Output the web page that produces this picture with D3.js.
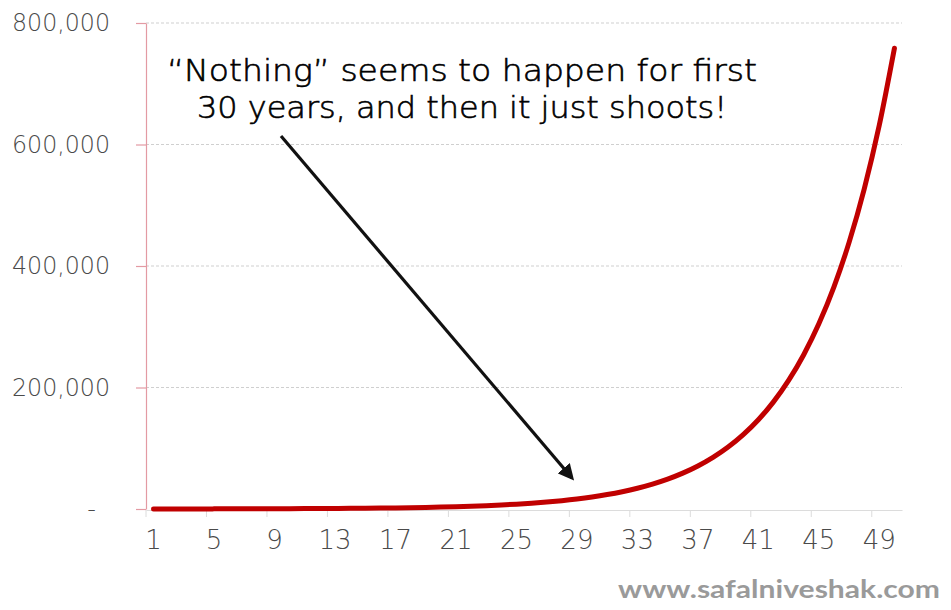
<!DOCTYPE html>
<html>
<head>
<meta charset="utf-8">
<script src="https://cdn.jsdelivr.net/npm/d3@7"></script>
<style>
  html, body { margin: 0; padding: 0; background: #fff; }
  svg { display: block; }
</style>
</head>
<body>
<svg id="chart" width="951" height="610"></svg>
<script>
// Years 1..50 and the portfolio value at the end of each year
const years = d3.range(1, 51);
const values = [
  100, 120, 144, 173, 207, 249, 299, 358, 430, 516,
  619, 743, 892, 1070, 1284, 1541, 1849, 2219, 2662, 3195,
  3834, 4601, 5521, 6625, 7950, 9540, 11448, 13737, 16484, 19781,
  23738, 28485, 34182, 41019, 49222, 59067, 70880, 85056, 102067, 122481,
  146977, 176373, 211647, 253977, 304772, 365726, 438871, 526646, 631975, 758370
];
const xTickLabels = [1, 5, 9, 13, 17, 21, 25, 29, 33, 37, 41, 45, 49];
const yTickValues = [0, 200000, 400000, 600000, 800000];
const noteLines = ["\u201CNothing\u201D seems to happen for first", "30 years, and then it just shoots!"];
const siteLabel = "www.safalniveshak.com";

const svg = d3.select("#chart");
const lightFont = "'DejaVu Sans', sans-serif";
const font = "'Lato', 'Open Sans', sans-serif";

const x = d3.scaleBand().domain(years).range([146, 902]);
const y = d3.scaleLinear().domain([0, 800000]).range([509, 23]);

// dashed horizontal gridlines
svg.append("g")
  .selectAll("line")
  .data(yTickValues.filter(d => d > 0))
  .join("line")
  .attr("x1", 146).attr("x2", 902)
  .attr("y1", d => y(d)).attr("y2", d => y(d))
  .attr("stroke", "#cfcfcf")
  .attr("stroke-width", 1)
  .attr("stroke-dasharray", "3,2");

// x axis: labels at category centres, tick marks at category edges
const xAxis = svg.append("g")
  .attr("transform", `translate(0,${y(0) + 1})`)
  .call(d3.axisBottom(x).tickValues(xTickLabels).tickSize(7).tickPadding(14).tickSizeOuter(0));
xAxis.select(".domain").attr("stroke", "#dcdcdc").attr("stroke-width", 1.2);
xAxis.selectAll(".tick line")
  .attr("stroke", "#dcdcdc")
  .attr("transform", `translate(${-x.bandwidth() / 2},0)`);
xAxis.selectAll(".tick text")
  .attr("font-family", lightFont)
  .attr("font-weight", 200)
  .attr("font-size", 26)
  .attr("fill", "#4a4a4a");

// y axis
const yAxis = svg.append("g")
  .attr("transform", "translate(146,0)")
  .call(d3.axisLeft(y)
    .tickValues(yTickValues)
    .tickSize(10)
    .tickPadding(26)
    .tickSizeOuter(0)
    .tickFormat(d => d === 0 ? "-" : d3.format(",")(d)));
yAxis.select(".domain").attr("stroke", "#e39aa3").attr("stroke-width", 1.2);
yAxis.selectAll(".tick line").attr("stroke", "#e39aa3").attr("stroke-width", 1.2);
yAxis.selectAll(".tick text")
  .attr("font-family", lightFont)
  .attr("font-weight", 200)
  .attr("font-size", 24)
  .attr("fill", "#4a4a4a")
  .attr("dx", d => d === 0 ? -14 : 0)
  .attr("textLength", d => d === 0 ? null : 98)
  .attr("lengthAdjust", "spacingAndGlyphs");

// growth curve
const line = d3.line()
  .x((d, i) => x(years[i]) + x.bandwidth() / 2)
  .y(d => y(d))
  .curve(d3.curveMonotoneX);

svg.append("path")
  .datum(values)
  .attr("d", line)
  .attr("fill", "none")
  .attr("stroke", "#c00000")
  .attr("stroke-width", 5)
  .attr("stroke-linecap", "round")
  .attr("stroke-linejoin", "round");

// annotation arrow
const defs = svg.append("defs");
defs.append("marker")
  .attr("id", "head")
  .attr("viewBox", "0 0 10 10")
  .attr("refX", 8).attr("refY", 5)
  .attr("markerWidth", 5).attr("markerHeight", 5)
  .attr("orient", "auto")
  .append("path")
  .attr("d", "M0,0 L10,5 L0,10 z")
  .attr("fill", "#111");

svg.append("line")
  .attr("x1", 281).attr("y1", 136)
  .attr("x2", 572).attr("y2", 478)
  .attr("stroke", "#111")
  .attr("stroke-width", 3.2)
  .attr("marker-end", "url(#head)");

// annotation text, stretched to its line widths
const noteBaselines = [81, 118];
const noteWidths = [590, 530];
svg.append("g")
  .selectAll("text")
  .data(noteLines)
  .join("text")
  .attr("x", 462)
  .attr("y", (d, i) => noteBaselines[i])
  .attr("text-anchor", "middle")
  .attr("font-family", lightFont)
  .attr("font-weight", 200)
  .attr("font-size", 30)
  .attr("fill", "#000")
  .attr("stroke", "#000")
  .attr("stroke-width", 0.6)
  .attr("textLength", (d, i) => noteWidths[i])
  .attr("lengthAdjust", "spacingAndGlyphs")
  .text(d => d);

// site label
svg.append("text")
  .attr("x", 940)
  .attr("y", 598)
  .attr("text-anchor", "end")
  .attr("font-family", font)
  .attr("font-weight", "bold")
  .attr("font-size", 24)
  .attr("fill", "#9a9a9a")
  .attr("textLength", 322)
  .attr("lengthAdjust", "spacingAndGlyphs")
  .text(siteLabel);
</script>
</body>
</html>
